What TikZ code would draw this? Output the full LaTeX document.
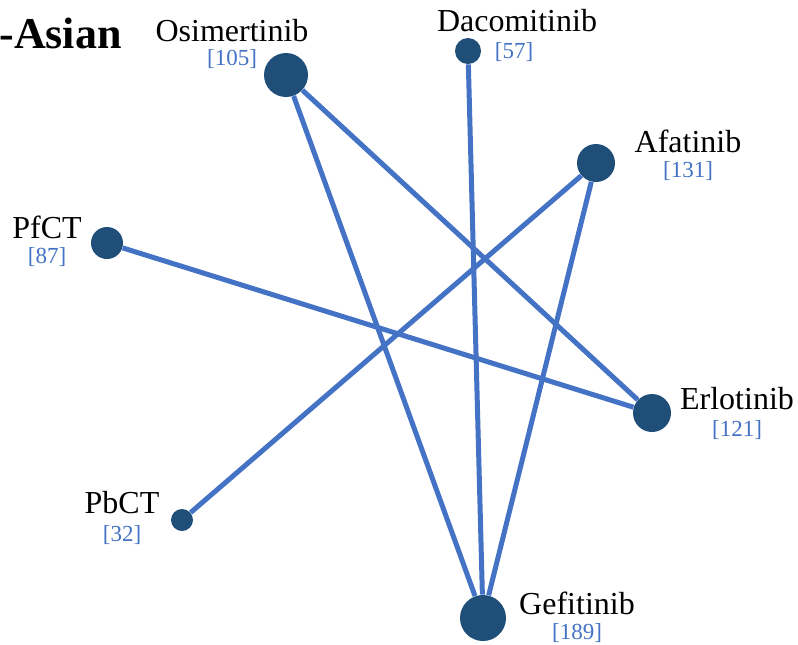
\documentclass[tikz,border=0pt]{standalone}
\usepackage{fontspec}
\setmainfont{Liberation Serif}
\usepackage{xcolor}
\usetikzlibrary{positioning}
\definecolor{nodeblue}{HTML}{1F4E79}
\definecolor{edgeblue}{HTML}{4472C4}

\begin{document}
\begin{tikzpicture}[
  x=0.5pt, y=-0.5pt,
  drug/.style={circle, fill=nodeblue, inner sep=0pt, minimum size=#1},
  lbl/.style={font=\fontsize{16}{18}\selectfont, inner sep=0pt},
  cnt/.style={font=\fontsize{11.5}{13}\selectfont, text=edgeblue, inner sep=0pt},
  edge/.style={draw=edgeblue, line width=2.5pt}
]
\useasboundingbox (0,0) rectangle (798,644);
\node[anchor=west, inner sep=0pt, font=\bfseries\fontsize{22}{24}\selectfont] (title) at (-1,33) {-Asian};

% treatments
\node[drug=22pt] (osi) at (286,75)  {};
\node[drug=13pt] (dac) at (468,51)  {};
\node[drug=19pt] (afa) at (596,163) {};
\node[drug=16pt] (pfct) at (107,243) {};
\node[drug=19pt] (erl) at (652,413) {};
\node[drug=11pt] (pbct) at (182,520) {};
\node[drug=23pt] (gef) at (483,618) {};

% comparisons
\draw[edge] (osi) -- (gef);
\draw[edge] (osi) -- (erl);
\draw[edge] (dac) -- (gef);
\draw[edge] (afa) -- (gef);
\draw[edge] (afa) -- (pbct);
\draw[edge] (pfct) -- (erl);

% names and sample sizes
\node[lbl] (osiL) at (232,31)  {Osimertinib};
\node[cnt] (osiN) at (232,59)  {[105]};
\node[lbl] (dacL) at (517,21)  {Dacomitinib};
\node[cnt] (dacN) at (514,52)  {[57]};
\node[lbl] (afaL) at (688,141) {Afatinib};
\node[cnt] (afaN) at (688,171) {[131]};
\node[lbl] (pfctL) at (47,227) {PfCT};
\node[cnt] (pfctN) at (47,257) {[87]};
\node[lbl] (erlL) at (737,399) {Erlotinib};
\node[cnt] (erlN) at (737,430) {[121]};
\node[lbl] (pbctL) at (122,503) {PbCT};
\node[cnt] (pbctN) at (122,535) {[32]};
\node[lbl] (gefL) at (577,603) {Gefitinib};
\node[cnt] (gefN) at (577,633) {[189]};
\end{tikzpicture}
\end{document}
